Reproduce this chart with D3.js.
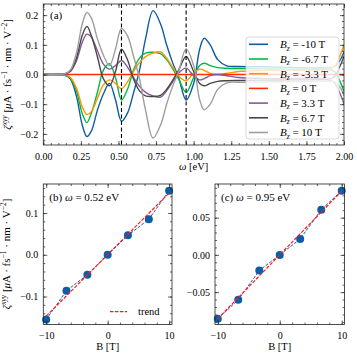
<!DOCTYPE html>
<html>
  <head>
    <meta charset="utf-8">
    <script src="https://d3js.org/d3.v7.min.js"></script>
    <style>
      body { margin: 0; background: white; }
      svg { display: block; font-family: "Liberation Serif", serif; }
      .tick line { stroke: #222; stroke-width: 0.7; }
      .tick text { font-family: "Liberation Serif", serif; font-size: 10px; fill: #000; }
    </style>
  </head>
  <body>
    <script>
      // photon energy grid (eV) for panel (a)
      var omega = [0.00, 0.10, 0.14, 0.18, 0.22, 0.26, 0.29, 0.32, 0.36, 0.40, 0.44, 0.48, 0.52, 0.56, 0.60,
                   0.64, 0.68, 0.73, 0.78, 0.82, 0.86, 0.90, 0.95, 1.00, 1.04, 1.07, 1.11, 1.16, 1.22, 1.30,
                   1.45, 1.65, 1.85, 1.93, 1.97, 2.00];

      var zetaBm10 = [0, 0, -0.002, -0.015, -0.072, -0.172, -0.209, -0.19, -0.12, -0.065, -0.03, -0.085, -0.157, -0.13, -0.062,
                      0.015, 0.12, 0.215, 0.17, 0.1, 0.04, -0.01, -0.0858, -0.03, 0.085, 0.122, 0.1, 0.05, 0.029, 0.027,
                      0.026, 0.024, 0.022, 0.025, 0.045, 0.077];
      var zetaBm67 = [0, 0, -0.002, -0.012, -0.055, -0.133, -0.162, -0.13, -0.06, 0.015, 0.036, -0.01, -0.086, -0.05, 0.015,
                      0.055, 0.072, 0.075, 0.07, 0.05, 0.02, -0.015, -0.0603, -0.01, 0.03, 0.038, 0.03, 0.023, 0.021, 0.02,
                      0.019, 0.018, 0.017, 0.012, -0.02, -0.057];
      var zetaBm33 = [0, 0, -0.001, -0.01, -0.045, -0.11, -0.135, -0.125, -0.08, -0.035, -0.018, -0.03, -0.048, -0.025, 0.01,
                      0.04, 0.06, 0.072, 0.076, 0.055, 0.025, -0.005, -0.021, 0.005, 0.018, 0.014, 0.004, 0.0, 0.004, 0.01,
                      0.013, 0.014, 0.015, 0.025, 0.06, 0.1];
      var zetaB0   = [0, 0, 0, 0, 0, 0, 0, 0, 0, 0, 0, 0, 0, 0, 0,
                      0, 0, 0, 0, 0, 0, 0, 0, 0, 0, 0, 0, 0, 0, 0,
                      0, 0, 0, 0, 0, 0];
      var zetaB33  = [0, 0, 0.001, 0.01, 0.045, 0.11, 0.136, 0.126, 0.08, 0.035, 0.018, 0.03, 0.047, 0.025, -0.01,
                      -0.04, -0.06, -0.072, -0.076, -0.055, -0.025, 0.005, 0.0214, -0.005, -0.018, -0.014, -0.004, 0.0, -0.004, -0.01,
                      -0.013, -0.014, -0.015, -0.025, -0.06, -0.1];
      var zetaB67  = [0, 0, 0.002, 0.012, 0.055, 0.133, 0.162, 0.13, 0.06, -0.015, -0.038, 0.01, 0.085, 0.05, -0.015,
                      -0.055, -0.072, -0.074, -0.07, -0.05, -0.02, 0.015, 0.0607, 0.01, -0.03, -0.038, -0.03, -0.023, -0.021, -0.02,
                      -0.019, -0.018, -0.017, -0.01, 0.025, 0.061];
      var zetaB10  = [0, 0, 0.002, 0.015, 0.072, 0.172, 0.209, 0.19, 0.12, 0.065, 0.03, 0.085, 0.155, 0.13, 0.062,
                      -0.015, -0.12, -0.214, -0.17, -0.1, -0.04, 0.01, 0.0862, 0.03, -0.085, -0.119, -0.1, -0.05, -0.028, -0.026,
                      -0.025, -0.024, -0.022, -0.024, -0.04, -0.072];

      var fieldLabels = ["-10", "-6.7", "-3.3", "0", "3.3", "6.7", "10"];
      var palette = ["#0C5DA5", "#00B945", "#FF9500", "#FF2C00", "#845B97", "#474747", "#9e9e9e"];
      var markOmega = [0.52, 0.95];

      // panels (b) and (c)
      var fieldB = [-10, -6.7, -3.3, 0, 3.3, 6.7, 10];
      var zetaAt052 = [-0.155, -0.086, -0.048, 0, 0.0465, 0.085, 0.1535];
      var zetaAt095 = [-0.0858, -0.0603, -0.021, 0, 0.0214, 0.0607, 0.0862];
      var trendB = [-10, 10];
      var trend052 = [-0.147, 0.148];
      var trend095 = [-0.0857, 0.0857];

      var seriesA = [zetaBm10, zetaBm67, zetaBm33, zetaB0, zetaB33, zetaB67, zetaB10];

      var svg = d3.select("body").append("svg")
        .attr("width", 357)
        .attr("height", 357);

      function drawAxes(g, x, y, o) {
        var xr = x.range(), yr = y.range();
        var yb = yr[0], yt = yr[1], xl = xr[0], xrr = xr[1];
        g.append("g").attr("transform", "translate(0," + yb + ")")
          .call(d3.axisBottom(x).tickValues(o.xMajor).tickSize(-4).tickPadding(o.xPad).tickFormat(o.xFmt));
        g.append("g").attr("transform", "translate(0," + yb + ")")
          .call(d3.axisBottom(x).tickValues(o.xMinor).tickSize(-2).tickFormat(""));
        g.append("g").attr("transform", "translate(0," + yt + ")")
          .call(d3.axisTop(x).tickValues(o.xMajor).tickSize(-4).tickFormat(""));
        g.append("g").attr("transform", "translate(0," + yt + ")")
          .call(d3.axisTop(x).tickValues(o.xMinor).tickSize(-2).tickFormat(""));
        g.append("g").attr("transform", "translate(" + xl + ",0)")
          .call(d3.axisLeft(y).tickValues(o.yMajor).tickSize(-4).tickPadding(5).tickFormat(o.yFmt));
        g.append("g").attr("transform", "translate(" + xl + ",0)")
          .call(d3.axisLeft(y).tickValues(o.yMinor).tickSize(-2).tickFormat(""));
        g.append("g").attr("transform", "translate(" + xrr + ",0)")
          .call(d3.axisRight(y).tickValues(o.yMajor).tickSize(-4).tickFormat(""));
        g.append("g").attr("transform", "translate(" + xrr + ",0)")
          .call(d3.axisRight(y).tickValues(o.yMinor).tickSize(-2).tickFormat(""));
        g.selectAll(".domain").remove();
        g.append("rect")
          .attr("x", xl).attr("y", yt)
          .attr("width", xrr - xl).attr("height", yb - yt)
          .attr("fill", "none").attr("stroke", "#222").attr("stroke-width", 0.8);
      }

      function minorTicks(a, b, step) {
        return d3.range(Math.ceil(a / step - 1e-9), Math.floor(b / step + 1e-9) + 1).map(function(k) { return +(k * step).toFixed(6); });
      }

      function yLabel(g, cx, cy) {
        var t = g.append("text")
          .attr("transform", "translate(" + cx + "," + cy + ") rotate(-90)")
          .attr("text-anchor", "middle")
          .attr("font-size", "11px");
        t.append("tspan").attr("font-style", "italic").text("ζ");
        t.append("tspan").attr("font-style", "italic").attr("font-size", "7.5px").attr("dy", -4).text("xyy");
        t.append("tspan").attr("dy", 4).text(" [");
        t.append("tspan").attr("font-style", "italic").text("μ");
        t.append("tspan").text("A · fs");
        t.append("tspan").attr("font-size", "7.5px").attr("dy", -4).text("−1");
        t.append("tspan").attr("dy", 4).text(" · nm · V");
        t.append("tspan").attr("font-size", "7.5px").attr("dy", -4).text("−2");
        t.append("tspan").attr("dy", 4).text("]");
      }

      // ---------- panel (a)
      var xA = d3.scaleLinear().domain([0, 2]).range([43.3, 344]);
      var yA = d3.scaleLinear().domain([-0.2375, 0.2375]).range([145, 4]);
      var gA = svg.append("g");

      svg.append("clipPath").attr("id", "clipA").append("rect")
        .attr("x", 43.3).attr("y", 4).attr("width", 344 - 43.3).attr("height", 141);

      var lineA = d3.line()
        .x(function(d, i) { return xA(omega[i]); })
        .y(function(d) { return yA(d); })
        .curve(d3.curveCatmullRom.alpha(0.5));

      gA.append("g").attr("clip-path", "url(#clipA)")
        .selectAll("path")
        .data(seriesA)
        .enter().append("path")
          .attr("d", lineA)
          .attr("fill", "none")
          .attr("stroke", function(d, i) { return palette[i]; })
          .attr("stroke-width", 1.4);

      gA.selectAll(".vmark")
        .data(markOmega)
        .enter().append("line")
          .attr("class", "vmark")
          .attr("x1", function(d) { return xA(d); })
          .attr("x2", function(d) { return xA(d); })
          .attr("y1", yA.range()[1]).attr("y2", yA.range()[0])
          .attr("stroke", "#000").attr("stroke-width", 1.1)
          .attr("stroke-dasharray", "4,2.5");

      drawAxes(gA, xA, yA, {
        xMajor: [0, 0.25, 0.5, 0.75, 1, 1.25, 1.5, 1.75, 2],
        xMinor: minorTicks(0, 2, 0.05),
        yMajor: [-0.2, -0.1, 0, 0.1, 0.2],
        yMinor: minorTicks(-0.2375, 0.2375, 0.02),
        xFmt: d3.format(".2f"), yFmt: d3.format(".1f"), xPad: 8
      });

      // legend (a)
      var legA = gA.append("g");
      legA.append("rect")
        .attr("x", 246).attr("y", 37).attr("width", 93).attr("height", 102).attr("rx", 3)
        .attr("fill", "white").attr("fill-opacity", 0.8)
        .attr("stroke", "#d0d0d0").attr("stroke-width", 0.8);
      var rows = legA.selectAll(".row").data(fieldLabels).enter().append("g")
        .attr("transform", function(d, i) { return "translate(0," + (44.3 + i * 14.7) + ")"; });
      rows.append("line")
        .attr("x1", 249).attr("x2", 268)
        .attr("stroke", function(d, i) { return palette[i]; })
        .attr("stroke-width", 1.6);
      var rt = rows.append("text").attr("x", 280).attr("dy", "0.35em").attr("font-size", "11px");
      rt.append("tspan").attr("font-style", "italic").text("B");
      rt.append("tspan").attr("font-style", "italic").attr("font-size", "7.5px").attr("dy", 2.5).text("z");
      rt.append("tspan").attr("dy", -2.5).text(function(d) { return " = " + d + " T"; });

      gA.append("text").attr("x", 50).attr("y", 19).attr("font-size", "11px").text("(a)");
      var xl = gA.append("text").attr("x", (43.3 + 344) / 2).attr("y", 170)
        .attr("text-anchor", "middle").attr("font-size", "10.5px");
      xl.append("tspan").attr("font-style", "italic").text("ω");
      xl.append("tspan").text(" [eV]");
      yLabel(gA, 11, 74.5);

      // ---------- panels (b) and (c)
      function drawSide(x, y, vals, trend, label, yOpt, showLegend) {
        var g = svg.append("g");
        var pts = vals.map(function(v, i) { return [fieldB[i], v]; });
        var ln = d3.line().x(function(d) { return x(d[0]); }).y(function(d) { return y(d[1]); });
        g.append("path").attr("d", ln(pts))
          .attr("fill", "none").attr("stroke", palette[0]).attr("stroke-width", 1)
          .attr("stroke-dasharray", "3,1.5");
        g.selectAll("circle").data(pts).enter().append("circle")
          .attr("cx", function(d) { return x(d[0]); })
          .attr("cy", function(d) { return y(d[1]); })
          .attr("r", 4).attr("fill", palette[0]);
        g.append("path").attr("d", ln(trendB.map(function(b, i) { return [b, trend[i]]; })))
          .attr("fill", "none").attr("stroke", "#ff1a1a").attr("stroke-width", 1.2)
          .attr("stroke-dasharray", "3.5,1.5");

        drawAxes(g, x, y, {
          xMajor: [-10, 0, 10],
          xMinor: minorTicks(-10.4, 10.4, 2),
          yMajor: yOpt.major, yMinor: minorTicks(y.domain()[0], y.domain()[1], yOpt.minor),
          xFmt: d3.format("d"), yFmt: d3.format(yOpt.fmt), xPad: 7
        });

        var x0 = x.range()[0];
        var t = g.append("text").attr("x", x0 + 6).attr("y", 201).attr("font-size", "11px");
        t.append("tspan").text("(" + label[0] + ") ");
        t.append("tspan").attr("font-style", "italic").text("ω");
        t.append("tspan").text(" = " + label[1] + " eV");

        var xm = (x.range()[0] + x.range()[1]) / 2;
        var bl = g.append("text").attr("x", xm).attr("y", 350).attr("text-anchor", "middle").attr("font-size", "10.5px");
        bl.text("B [T]");

        if (showLegend) {
          g.append("line").attr("x1", 110).attr("x2", 127).attr("y1", 311.7).attr("y2", 311.7)
            .attr("stroke", "#ff1a1a").attr("stroke-width", 1.2).attr("stroke-dasharray", "3.5,1.5");
          g.append("text").attr("x", 138).attr("y", 311.7).attr("dy", "0.35em").attr("font-size", "10.5px").text("trend");
        }
        return g;
      }

      var xB = d3.scaleLinear().domain([-10.47, 10.47]).range([43.3, 172]);
      var yB = d3.scaleLinear().domain([-0.167, 0.1695]).range([324.5, 184]);
      var gB = drawSide(xB, yB, zetaAt052, trend052, ["b", "0.52"], {major: [-0.1, 0, 0.1], minor: 0.02, fmt: ".1f"}, true);
      yLabel(gB, 10, 254);

      var xC = d3.scaleLinear().domain([-10.45, 10.45]).range([215, 344.5]);
      var yC = d3.scaleLinear().domain([-0.0935, 0.0952]).range([324.5, 184]);
      drawSide(xC, yC, zetaAt095, trend095, ["c", "0.95"], {major: [-0.05, 0, 0.05], minor: 0.01, fmt: ".2f"}, false);
    </script>
  </body>
</html>
